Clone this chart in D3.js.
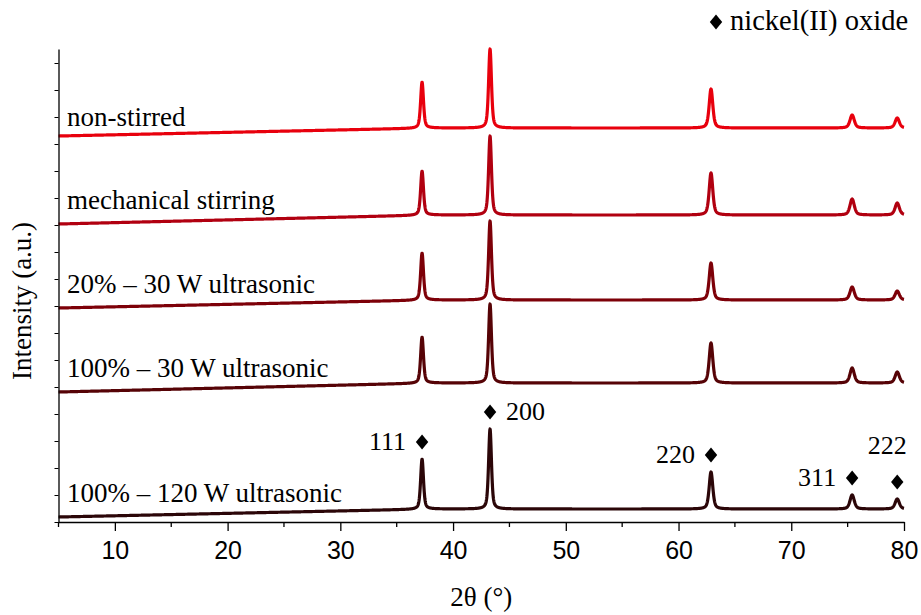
<!DOCTYPE html>
<html>
<head>
<meta charset="utf-8">
<script src="https://cdn.jsdelivr.net/npm/d3@7"></script>
<style>
  body { margin: 0; background: #fff; }
  text { fill: #000; }
</style>
</head>
<body>
<svg id="chart" width="921" height="615"></svg>
<script>
// NiO reflections
const peakPos = [37.25, 43.28, 62.88, 75.4, 79.4];
const peakHkl = ["111", "200", "220", "311", "222"];
const peakFwhm = [0.3, 0.3, 0.38, 0.45, 0.45];
const hklSide = ["left", "right", "left", "left", "above"];

const samples = [
  "non-stirred",
  "mechanical stirring",
  "20% \u2013 30 W ultrasonic",
  "100% \u2013 30 W ultrasonic",
  "100% \u2013 120 W ultrasonic"
];
const colors = ["#e8000d", "#b10010", "#7d0008", "#560306", "#2b0608"];

// baseline (a.u.) at 2θ = 5, 38, 80
const baseKnots = [5, 38, 80];
const baseNonStirred = [386, 394, 394];
const baseMechanical = [298, 307, 307];
const base20 = [214, 222, 222];
const base100 = [130, 139, 139];
const base120 = [5, 13, 13];

// peak heights above baseline (a.u.)
const hNonStirred = [46, 79, 39, 13, 10];
const hMechanical = [44, 79, 42, 16, 12];
const h20 = [47, 79, 37, 13, 9];
const h100 = [46, 79, 40, 15, 11];
const h120 = [50, 80, 37, 14, 10];

const xTicks = [10, 20, 30, 40, 50, 60, 70, 80];
const xMinor = [5, 15, 25, 35, 45, 55, 65, 75];

const bases = [baseNonStirred, baseMechanical, base20, base100, base120];
const heights = [hNonStirred, hMechanical, h20, h100, h120];

const serif = "Liberation Serif, Times New Roman, serif";
const svg = d3.select("#chart");
const margin = { left: 58.5, right: 17, top: 49, bottom: 93 };
const width = 921, height = 615;

const x = d3.scaleLinear().domain([5, 80]).range([margin.left, width - margin.right]);
const y = d3.scaleLinear().domain([0, 473]).range([height - margin.bottom, margin.top]);
const baseAt = d3.scaleLinear().domain(baseKnots).clamp(true);

// pseudo-Voigt profile for each reflection on a sloping background
let profile = (base, h) => {
  baseAt.range(base);
  let pts = [];
  for (let t = 5; t <= 80.0001; t += 0.02) {
    let v = baseAt(t);
    peakPos.forEach((p, i) => {
      let w = peakFwhm[i] / 2;
      let d = (t - p) / w;
      let lor = 1 / (1 + d * d);
      let gau = Math.exp(-Math.LN2 * d * d);
      v += h[i] * (0.5 * lor + 0.5 * gau);
    });
    pts.push([t, v]);
  }
  return pts;
};

let line = d3.line().x((d) => x(d[0])).y((d) => y(d[1]));

svg
  .append("g")
  .selectAll("path")
  .data(samples)
  .join("path")
  .attr("d", (d, i) => line(profile(bases[i], heights[i])))
  .attr("fill", "none")
  .attr("stroke", (d, i) => colors[i])
  .attr("stroke-width", 3.2)
  .attr("stroke-linejoin", "round");

// sample names
svg
  .append("g")
  .selectAll("text")
  .data(samples)
  .join("text")
  .attr("x", 67)
  .attr("y", (d, i) => y(bases[i][0]) - (i == 0 ? 10 : 15))
  .attr("font-family", serif)
  .attr("font-size", 27)
  .text((d) => d);

// axes
let xAxis = svg
  .append("g")
  .attr("transform", `translate(0, ${y(0)})`)
  .call(d3.axisBottom(x).tickValues(xTicks).tickSize(9).tickSizeOuter(0).tickPadding(10));
xAxis.selectAll("text")
  .attr("font-family", "Liberation Sans, Arial, sans-serif")
  .attr("font-size", 25);
xAxis.select(".domain").attr("stroke-width", 1.3);
xAxis.selectAll(".tick line").attr("stroke-width", 1.3);

svg
  .append("g")
  .attr("transform", `translate(0, ${y(0)})`)
  .selectAll("line")
  .data(xMinor)
  .join("line")
  .attr("x1", (d) => x(d))
  .attr("x2", (d) => x(d))
  .attr("y2", 5)
  .attr("stroke", "#000")
  .attr("stroke-width", 1.3);

let yAxis = svg
  .append("g")
  .attr("transform", `translate(${margin.left}, 0)`)
  .call(d3.axisLeft(y).tickValues(d3.range(0, 473, 27)).tickSize(4).tickSizeOuter(0).tickFormat(""));
yAxis.select(".domain").attr("stroke-width", 1.3);

svg
  .append("text")
  .attr("x", x(42.5))
  .attr("y", 606)
  .attr("text-anchor", "middle")
  .attr("font-family", serif)
  .attr("font-size", 27)
  .text("2\u03b8 (\u00b0)");

svg
  .append("text")
  .attr("transform", `translate(31, 301) rotate(-90)`)
  .attr("text-anchor", "middle")
  .attr("font-family", serif)
  .attr("font-size", 27)
  .text("Intensity (a.u.)");

// wide diamond like the ♦ glyph
let wideDiamond = {
  draw(ctx, size) {
    let w = 6.2, hh = 7.5;
    ctx.moveTo(0, -hh);
    ctx.lineTo(w, 0);
    ctx.lineTo(0, hh);
    ctx.lineTo(-w, 0);
    ctx.closePath();
  }
};
let diamond = d3.symbol().type(wideDiamond);

// reflection markers over the bottom pattern
let marks = svg
  .append("g")
  .selectAll("g")
  .data(peakPos)
  .join("g")
  .attr("transform", (d, i) => `translate(${x(d)}, ${y(base120[2] + h120[i]) - 17})`);

marks.append("path").attr("d", diamond).attr("fill", "#000");

marks
  .append("text")
  .attr("font-family", serif)
  .attr("font-size", 26)
  .attr("x", (d, i) => (hklSide[i] == "right" ? 16 : hklSide[i] == "left" ? -16 : -10))
  .attr("y", (d, i) => (hklSide[i] == "above" ? -28 : 8))
  .attr("text-anchor", (d, i) => (hklSide[i] == "right" ? "start" : hklSide[i] == "left" ? "end" : "middle"))
  .text((d, i) => peakHkl[i]);

// legend
let legend = svg.append("g").attr("transform", "translate(716, 22)");
legend.append("path").attr("d", diamond).attr("fill", "#000");
legend
  .append("text")
  .attr("x", 14)
  .attr("y", 8)
  .attr("font-family", serif)
  .attr("font-size", 28.5)
  .text("nickel(II) oxide");
</script>
</body>
</html>
